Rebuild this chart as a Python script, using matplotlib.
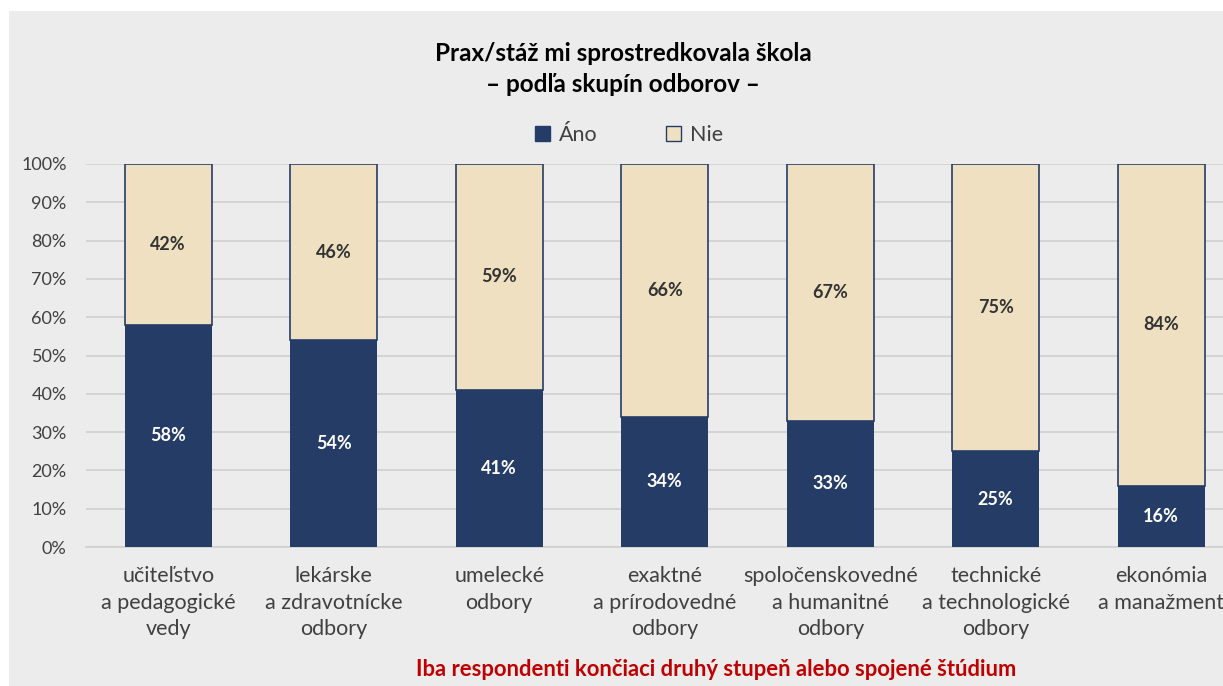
import matplotlib.pyplot as plt
import matplotlib.patches as mpatches
import numpy as np

plt.rcParams['font.family'] = ['Lato', 'DejaVu Sans']

categories = ["učiteľstvo\na pedagogické\nvedy",
              "lekárske\na zdravotnícke\nodbory",
              "umelecké\nodbory",
              "exaktné\na prírodovedné\nodbory",
              "spoločenskovedné\na humanitné\nodbory",
              "technické\na technologické\nodbory",
              "ekonómia\na manažment"]
ano = [58, 54, 41, 34, 33, 25, 16]
nie = [42, 46, 59, 66, 67, 75, 84]

NAVY = "#253D66"
BEIGE = "#EEE0C1"
BG = "#ECECEC"
TXT = "#404040"

W, H = 1223, 686
fig = plt.figure(figsize=(W / 100, H / 100), dpi=100, facecolor="white")
fig.patches.append(mpatches.Rectangle((9 / W, 0), 1, 1 - 11 / H, transform=fig.transFigure,
                                      facecolor=BG, edgecolor="none", zorder=-10))

# axes extends past right edge (last label is clipped in the reference)
left, right = 85.5 / W, 1244 / W
bottom, top = 1 - 547 / H, 1 - 164 / H
ax = fig.add_axes([left, bottom, right - left, top - bottom])
ax.set_facecolor("none")

x = np.arange(len(categories))
ax.bar(x, ano, width=0.526, color=NAVY, edgecolor="none", zorder=3)
ax.bar(x, nie, bottom=ano, width=0.526, color=BEIGE, edgecolor=NAVY, linewidth=1.2, zorder=3)

for i in range(len(x)):
    ax.text(x[i], ano[i] / 2, f"{ano[i]}%", ha="center", va="center",
            color="white", fontsize=13, fontweight="bold", zorder=4)
    ax.text(x[i], ano[i] + nie[i] / 2, f"{nie[i]}%", ha="center", va="center",
            color="#333333", fontsize=13, fontweight="bold", zorder=4)

ax.set_xlim(-0.5, len(categories) - 0.5)
ax.set_ylim(0, 100)
ax.set_yticks(np.arange(0, 101, 10))
ax.set_yticklabels([f"{v}%" for v in range(0, 101, 10)], fontsize=13, color=TXT)
ax.yaxis.grid(True, color="#D0D0D0", linewidth=1.2, zorder=0)
ax.set_axisbelow(True)
ax.set_xticks(x)
ax.set_xticklabels(categories, fontsize=15.5, color=TXT, linespacing=1.4)
ax.tick_params(axis="both", length=0)
ax.tick_params(axis="x", pad=14)
ax.tick_params(axis="y", pad=13.5)
for s in ["top", "right", "left"]:
    ax.spines[s].set_visible(False)
ax.spines["bottom"].set_color("#D0D0D0")
ax.spines["bottom"].set_linewidth(1.2)

fig.text(623 / W, 1 - 69 / H, "Prax/stáž mi sprostredkovala škola\n– podľa skupín odborov –",
         ha="center", va="center", fontsize=17.5, fontweight="bold", color="black", linespacing=1.42)

handles = [mpatches.Patch(facecolor=NAVY, edgecolor=NAVY, label="Áno"),
           mpatches.Patch(facecolor=BEIGE, edgecolor=NAVY, label="Nie")]
leg = fig.legend(handles=handles, loc="center", bbox_to_anchor=(629 / W, 1 - 135 / H), ncol=2,
                 frameon=False, fontsize=15.5, handlelength=0.7, handleheight=0.7,
                 columnspacing=3.2, handletextpad=0.4)
for t in leg.get_texts():
    t.set_color(TXT)

fig.text(716 / W, 1 - 669 / H, "Iba respondenti končiaci druhý stupeň alebo spojené štúdium",
         ha="center", va="center", fontsize=15.8, fontweight="bold", color="#C00000")

fig.savefig("out.png", dpi=100, facecolor="white")
